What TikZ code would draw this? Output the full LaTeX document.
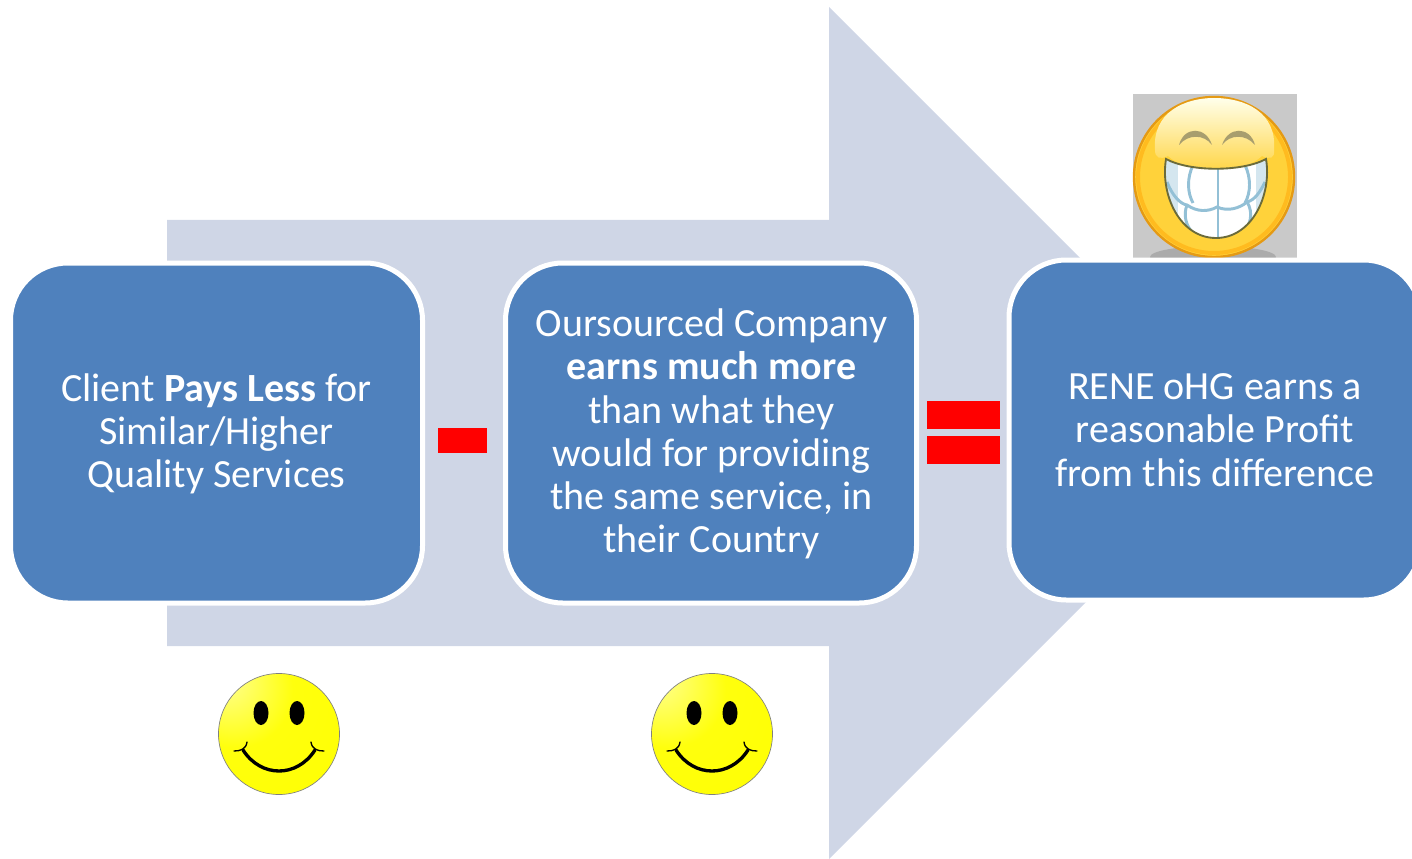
\documentclass[tikz,border=0pt]{standalone}
\usepackage{fontspec}
\setmainfont{Carlito}
\usetikzlibrary{calc}
\definecolor{arrowc}{HTML}{CFD6E6}
\definecolor{boxc}{HTML}{4F81BD}
\definecolor{minusc}{HTML}{FF0000}
\definecolor{greyback}{HTML}{C9C9C9}
\definecolor{greyshadow}{HTML}{ABABAB}
\definecolor{grinedge}{HTML}{E59A14}
\definecolor{browc}{HTML}{A89E6E}
\definecolor{mouthc}{HTML}{6B6B3B}
\definecolor{toothline}{HTML}{93C0D6}
\definecolor{grinface}{HTML}{FFD23A}
\pgfdeclareradialshading{smileshade}{\pgfpoint{-24bp}{24bp}}{%
  rgb(0bp)=(1,1,0.6);rgb(24bp)=(1,1,0.05);rgb(60bp)=(1,1,0);rgb(80bp)=(0.96,0.96,0);rgb(100bp)=(0.9,0.9,0)}
\pgfdeclareradialshading{grinshade}{\pgfpoint{0bp}{0bp}}{%
  rgb(0bp)=(1,0.85,0.25);rgb(15bp)=(1,0.82,0.17);rgb(19bp)=(0.98,0.74,0.12);rgb(25bp)=(0.9,0.6,0.08);rgb(100bp)=(0.9,0.6,0.08)}
\tikzset{
  x=0.75pt,y=-0.75pt,
  stagebox/.style={draw=white,line width=3.75pt,fill=boxc,rounded corners=43pt,inner sep=0pt,
     minimum width=#1*0.75pt,minimum height=255pt},
  stagetext/.style={text=white,font=\fontsize{30}{32.4}\selectfont,align=center,inner sep=0pt},
  redbar/.style={fill=minusc,draw=none},
  smiley/.style={circle,draw=black!50,line width=0.5pt,inner sep=0pt,minimum size=#1*0.75pt,shading=smileshade},
  eye/.style={fill=black,draw=none},
  smile/.style={draw=black,line width=2.5pt,line cap=round},
  dimple/.style={draw=black,line width=1pt,line cap=round},
  toothstroke/.style={draw=toothline,line width=2.2pt},
}
\newcommand{\happyface}[3]{%
  \node[smiley=121] (#3) at (#1,#2) {};
  \fill[eye] ($(#3)+(-18,-21)$) ellipse [x radius=7.5,y radius=12];
  \fill[eye] ($(#3)+(18,-21)$) ellipse [x radius=7.5,y radius=12];
  \draw[smile] ($(#3)+(-36,16)$) .. controls ($(#3)+(-18,44)$) and ($(#3)+(18,44)$) .. ($(#3)+(36,16)$);
  \draw[dimple] ($(#3)+(-45,17)$) .. controls ($(#3)+(-38,17)$) and ($(#3)+(-33,15)$) .. ($(#3)+(-32,8)$);
  \draw[dimple] ($(#3)+(45,17)$) .. controls ($(#3)+(38,17)$) and ($(#3)+(33,15)$) .. ($(#3)+(32,8)$);
}
\begin{document}
\begin{tikzpicture}
\useasboundingbox (0,0) rectangle (1412,859);
\clip (0,0) rectangle (1412,859);
% big arrow
\fill[arrowc] (167,220) -- (829,220) -- (829,7) -- (1255,433) -- (829,859) -- (829,646) -- (167,646) -- cycle;
% grin picture
\fill[greyback] (1133,94) rectangle (1297,262);
\fill[greyshadow] (1213,257) ellipse [x radius=63,y radius=11];
\node[circle,inner sep=0pt,minimum size=120pt,fill=grinface,draw=grinedge,line width=1.8pt] (grin) at (1214,177) {};
\draw[orange!75!yellow,opacity=0.45,line width=3pt] (grin.center) circle [radius=76];
% cream highlight
\shade[top color=yellow!8!white,bottom color=grinface]
   (1155,150) .. controls (1152,112) and (1185,98) .. (1214,98)
   .. controls (1245,98) and (1277,112) .. (1274,150)
   .. controls (1275,158) and (1270,160) .. (1262,156)
   .. controls (1240,176) and (1190,176) .. (1168,156)
   .. controls (1160,160) and (1155,158) .. (1155,150) -- cycle;
% mouth
\fill[white] (1166,159) .. controls (1190,172) and (1242,172) .. (1266,159)
   .. controls (1272,195) and (1252,238) .. (1216,238) .. controls (1180,238) and (1160,195) .. (1166,159) -- cycle;
\begin{scope}
\clip (1166,159) .. controls (1190,172) and (1242,172) .. (1266,159)
   .. controls (1272,195) and (1252,238) .. (1216,238) .. controls (1180,238) and (1160,195) .. (1166,159) -- cycle;
\fill[toothline!40!white] (1160,155) rectangle (1178,240);
\fill[toothline!40!white] (1256,155) rectangle (1272,240);
\draw[toothstroke] (1218,165) -- (1218,238);
\draw[toothstroke] (1167,182) .. controls (1172,195) and (1180,204) .. (1187,205)
   .. controls (1197,212) and (1208,212) .. (1217,207)
   .. controls (1228,212) and (1240,208) .. (1247,202)
   .. controls (1255,200) and (1260,192) .. (1265,182);
\draw[toothstroke] (1193,165) .. controls (1187,178) and (1187,192) .. (1193,203);
\draw[toothstroke] (1245,165) .. controls (1251,178) and (1251,192) .. (1245,203);
\draw[toothstroke] (1187,205) .. controls (1183,215) and (1186,226) .. (1193,233);
\draw[toothstroke] (1247,202) .. controls (1254,213) and (1250,226) .. (1243,233);
\end{scope}
\draw[mouthc,line width=1.4pt] (1166,159) .. controls (1190,172) and (1242,172) .. (1266,159)
   .. controls (1272,195) and (1252,238) .. (1216,238) .. controls (1180,238) and (1160,195) .. (1166,159) -- cycle;
% eyebrows
\fill[browc] (1179,145) .. controls (1184,126) and (1206,126) .. (1212,145) .. controls (1204,134) and (1188,134) .. (1179,145) -- cycle;
\fill[browc] (1222,145) .. controls (1228,126) and (1250,126) .. (1255,145) .. controls (1246,134) and (1230,134) .. (1222,145) -- cycle;
% boxes
\node[stagebox=412] (clientbox) at (216.5,433) {};
\node[stagetext] (clienttext) at (216.5,434) {Client \textbf{Pays Less} for\\Similar/Higher\\Quality Services};
\node[stagebox=411] (companybox) at (711,433) {};
\node[stagetext] (companytext) at (711.5,434) {Oursourced Company\\\textbf{earns much more}\\than what they\\would for providing\\the same service, in\\their Country};
\node[stagebox=412] (renebox) at (1215,430) {};
\node[stagetext] (renetext) at (1215,430) {RENE oHG earns a\\reasonable Profit\\from this difference};
% operators
\fill[redbar] (438,428) rectangle (487,453);
\fill[redbar] (927,401) rectangle (1000,429);
\fill[redbar] (927,436) rectangle (1000,464);
% smileys
\happyface{279}{734}{faceone}
\happyface{712}{734}{facetwo}
\end{tikzpicture}
\end{document}
